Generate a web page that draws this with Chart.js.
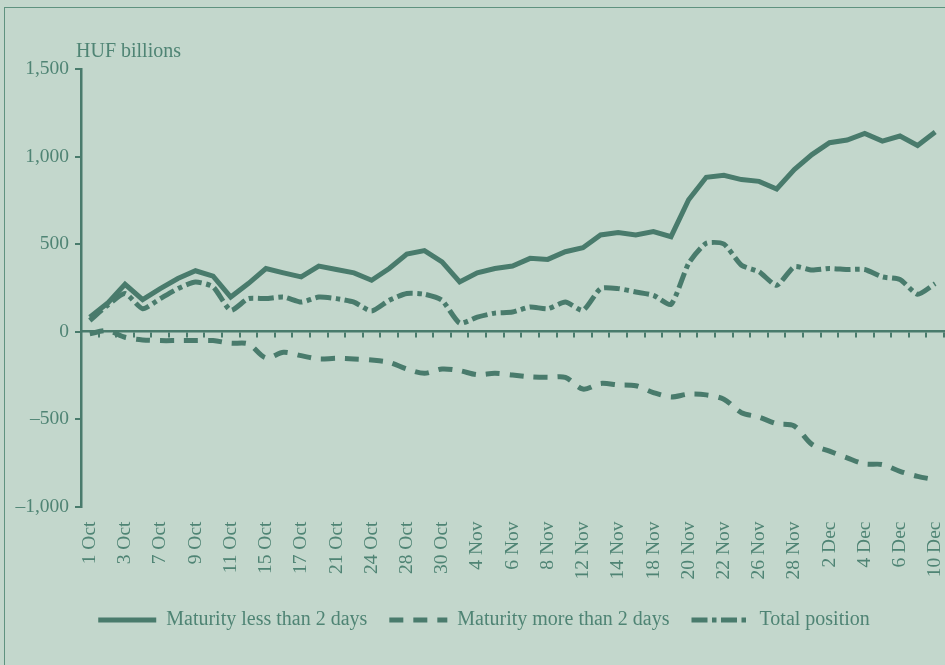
<!DOCTYPE html>
<html>
<head>
<meta charset="utf-8">
<script src="https://cdn.jsdelivr.net/npm/chart.js@4.4.1/dist/chart.umd.min.js"></script>
<style>
  html, body { margin: 0; padding: 0; background: #c3d7cc; overflow: hidden; width: 945px; height: 665px; }
  #frame { position: absolute; left: 4px; top: 7px; width: 1200px; height: 1000px;
           border-left: 1.5px solid #5f927f; border-top: 1.5px solid #5f927f; }
  #chart { position: absolute; left: 0; top: 0; }
</style>
</head>
<body>
<div id="frame"></div>
<canvas id="chart" width="960" height="665"></canvas>
<script>
// trading days, every other one labelled on the axis
const days = [
  '1 Oct', '2 Oct', '3 Oct', '6 Oct', '7 Oct', '8 Oct', '9 Oct', '10 Oct', '11 Oct', '14 Oct',
  '15 Oct', '16 Oct', '17 Oct', '20 Oct', '21 Oct', '22 Oct', '24 Oct', '27 Oct', '28 Oct', '29 Oct',
  '30 Oct', '3 Nov', '4 Nov', '5 Nov', '6 Nov', '7 Nov', '8 Nov', '11 Nov', '12 Nov', '13 Nov',
  '14 Nov', '17 Nov', '18 Nov', '19 Nov', '20 Nov', '21 Nov', '22 Nov', '25 Nov', '26 Nov', '27 Nov',
  '28 Nov', '1 Dec', '2 Dec', '3 Dec', '4 Dec', '5 Dec', '6 Dec', '9 Dec', '10 Dec'
];

// HUF billions
const lessThan2 = [82, 161, 270, 182, 245, 303, 347, 316, 197, 274,
  360, 335, 312, 374, 354, 335, 293, 360, 442, 462,
  398, 283, 335, 360, 374, 418, 412, 456, 479, 552,
  565, 552, 571, 542, 753, 881, 893, 868, 858, 814,
  925, 1011, 1079, 1094, 1132, 1088, 1117, 1063, 1140];

const moreThan2 = [-13, 5, -33, -48, -52, -52, -52, -52, -67, -71,
  -151, -119, -138, -157, -153, -157, -163, -176, -214, -239,
  -214, -224, -247, -239, -249, -259, -262, -262, -329, -297,
  -305, -310, -349, -374, -358, -362, -387, -464, -489, -527,
  -540, -645, -684, -722, -757, -760, -799, -828, -847];

const total = [63, 149, 217, 130, 188, 245, 283, 255, 121, 188,
  188, 197, 168, 197, 188, 168, 117, 178, 217, 213,
  178, 48, 82, 105, 111, 140, 130, 168, 121, 245,
  245, 226, 207, 155, 389, 504, 500, 379, 341, 264,
  370, 351, 360, 354, 354, 312, 297, 213, 274];

const seriesNames = ['Maturity less than 2 days', 'Maturity more than 2 days', 'Total position'];

const LINE = '#497b6c';
const TEXT = '#4f8474';
const FONT = '"Liberation Serif", "Times New Roman", serif';

function fmt(v) {
  const s = Math.abs(v).toLocaleString('en-US');
  return v < 0 ? '\u2013' + s : s;
}

// unit caption above the y axis
const unitLabel = {
  id: 'unitLabel',
  afterDraw(chart) {
    const { ctx, scales: { y } } = chart;
    ctx.save();
    ctx.font = '20px ' + FONT;
    ctx.fillStyle = TEXT;
    ctx.textAlign = 'left';
    ctx.textBaseline = 'alphabetic';
    ctx.fillText('HUF billions', y.right - 5, y.top - 12);
    ctx.restore();
  }
};

const chart = new Chart(document.getElementById('chart'), {
  type: 'line',
  data: {
    labels: days,
    datasets: [
      { label: seriesNames[0], data: lessThan2, borderColor: LINE, backgroundColor: LINE,
        borderWidth: 5, pointRadius: 0, tension: 0 },
      { label: seriesNames[1], data: moreThan2, borderColor: LINE, backgroundColor: LINE,
        borderWidth: 5, borderDash: [14, 10], pointRadius: 0, tension: 0.3 },
      { label: seriesNames[2], data: total, borderColor: LINE, backgroundColor: LINE,
        borderWidth: 5, borderDash: [16, 4.5, 4.5, 4.5], pointRadius: 0, tension: 0.2 }
    ]
  },
  options: {
    responsive: false,
    animation: false,
    layout: { padding: { left: 8, right: 0, top: 69, bottom: 25 } },
    plugins: {
      tooltip: { enabled: false },
      legend: {
        position: 'bottom',
        labels: {
          usePointStyle: true,
          pointStyle: 'line',
          pointStyleWidth: 58,
          boxHeight: 6,
          padding: 22,
          color: TEXT,
          font: { family: FONT, size: 20 },
          // point style drops the dash, so copy it back from the datasets
          generateLabels(chart) {
            const items = Chart.defaults.plugins.legend.labels.generateLabels(chart);
            items.forEach(it => {
              const ds = chart.data.datasets[it.datasetIndex];
              it.lineDash = ds.borderDash || [];
              it.lineWidth = ds.borderWidth;
              it.strokeStyle = ds.borderColor;
            });
            return items;
          }
        }
      }
    },
    scales: {
      x: {
        type: 'category',
        position: 'bottom',
        offset: true,
        border: { display: false },
        grid: { display: false, drawTicks: false },
        ticks: {
          autoSkip: false,
          minRotation: 90,
          maxRotation: 90,
          padding: 15,
          color: TEXT,
          font: { family: FONT, size: 19.5 },
          callback: (v, i) => (i % 2 === 0 ? days[i] : '')
        },
        // plot runs on past the right edge of the picture
        afterFit: (s) => { s.height = 81.5; s.paddingRight = 16; }
      },
      x2: {
        type: 'category',
        position: { y: 0 },
        offset: true,
        border: { display: true, color: LINE, width: 2.5 },
        grid: { offset: true, drawOnChartArea: false, drawTicks: true, tickLength: 5, color: LINE, lineWidth: 2 },
        ticks: { display: false },
        afterFit: (s) => { s.paddingRight = 16; }
      },
      y: {
        min: -1000,
        max: 1500,
        border: { display: true, color: LINE, width: 2.5 },
        grid: { drawOnChartArea: false, drawTicks: true, tickLength: 6, color: LINE, lineWidth: 2 },
        ticks: {
          stepSize: 500,
          padding: 6,
          color: TEXT,
          font: { family: FONT, size: 19.5 },
          callback: (v) => fmt(v)
        },
        afterFit: (s) => { s.width = 73; }
      }
    }
  },
  plugins: [unitLabel]
});
</script>
</body>
</html>
